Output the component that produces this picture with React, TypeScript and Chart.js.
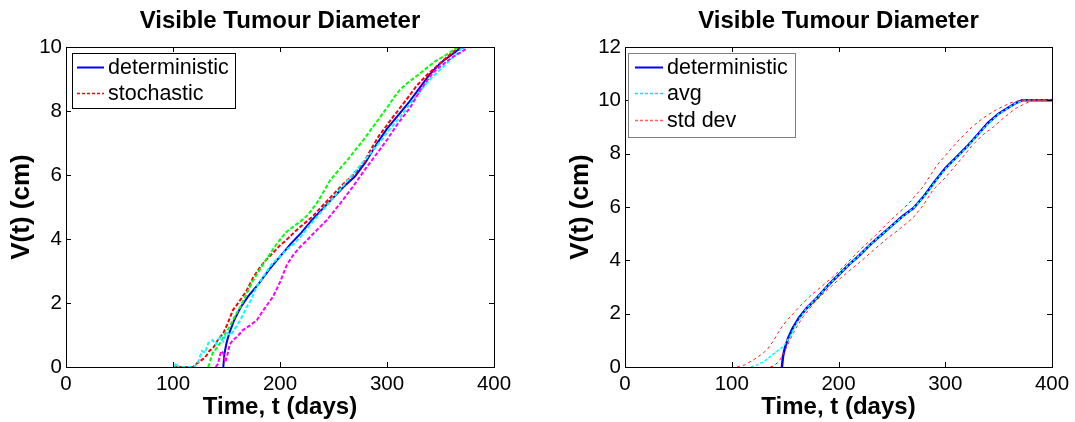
import React, { useEffect, useRef } from "react";
import { Chart, registerables } from "chart.js";
Chart.register(...registerables);

// ---------- data ----------
const xTicks = [0, 100, 200, 300, 400];
const leftYMax = 10;
const rightYMax = 12;

const detT = [147, 148, 150, 153, 157, 163, 170, 180, 190, 200, 210, 220, 230, 240, 250, 260, 270, 280, 290, 300, 310, 320, 330, 340, 350, 360, 366, 372];
const detV = [0, 0.4, 0.75, 1.1, 1.45, 1.85, 2.2, 2.6, 3.05, 3.45, 3.85, 4.2, 4.6, 4.95, 5.3, 5.65, 5.95, 6.4, 6.95, 7.45, 7.85, 8.25, 8.7, 9.15, 9.5, 9.75, 9.9, 10];

const redT = [100, 119, 122, 126, 130, 134, 138, 142, 147, 151, 156, 162, 169, 175, 181, 187, 193, 200, 206, 213, 219, 225, 230, 240, 250, 260, 270, 278, 285, 292, 303, 310, 318, 328, 338, 350, 360, 368];
const redV = [0, 0, 0.1, 0.2, 0.3, 0.5, 0.62, 0.85, 1.06, 1.35, 1.78, 2.05, 2.4, 2.8, 3.1, 3.35, 3.55, 3.8, 3.97, 4.2, 4.38, 4.55, 4.69, 5.05, 5.4, 5.75, 6.05, 6.37, 6.8, 7.2, 7.7, 8.0, 8.35, 8.8, 9.15, 9.5, 9.8, 10];

const greenT = [133, 137, 141, 144, 148, 153, 158, 163, 169, 174, 179, 185, 191, 198, 206, 213, 219, 226, 235, 247, 256, 265, 278, 289, 300, 306, 312, 320, 328, 337, 345, 355, 362, 366];
const greenV = [0, 0.43, 0.6, 0.75, 1.0, 1.26, 1.6, 1.88, 2.3, 2.65, 2.93, 3.25, 3.55, 3.9, 4.22, 4.4, 4.55, 4.75, 5.15, 5.84, 6.2, 6.55, 7.1, 7.6, 8.1, 8.4, 8.66, 8.9, 9.1, 9.34, 9.55, 9.75, 9.9, 10];

const cyanT = [101, 103, 105, 120, 124, 127, 130, 133, 137, 140, 144, 147, 150, 154, 158, 163, 169, 173, 178, 185, 193, 200, 206, 213, 219, 227, 234.5, 245, 255, 265, 275, 287, 295, 303, 312, 320, 327, 334, 342, 350, 356, 364, 371];
const cyanV = [0, 0.12, 0, 0, 0.2, 0.5, 0.45, 0.75, 0.84, 0.7, 0.94, 0.8, 1.06, 1.0, 1.2, 1.47, 1.88, 2.1, 2.5, 2.85, 3.25, 3.45, 3.66, 3.85, 4.07, 4.4, 4.69, 5.1, 5.5, 5.9, 6.3, 6.78, 7.1, 7.45, 7.8, 8.15, 8.45, 8.75, 9.05, 9.3, 9.5, 9.75, 10];

const magT = [140, 142, 145, 147, 149, 151, 153, 156, 160, 165.6, 172, 178.5, 185, 193.5, 200, 206.5, 212, 218.7, 225, 232, 244, 256, 268, 280, 293, 300, 310, 321.5, 332, 343, 352, 362, 370, 376];
const magV = [0, 0.1, 0.5, 0.43, 0.15, 0.4, 0.7, 0.84, 0.95, 1.16, 1.3, 1.47, 1.8, 2.2, 2.65, 3.2, 3.48, 3.75, 3.95, 4.2, 4.6, 5.1, 5.63, 6.2, 6.78, 7.1, 7.6, 8.1, 8.7, 9.2, 9.45, 9.7, 9.85, 10];

const detRT = [147, 148, 150, 153, 157, 163, 170, 180, 190, 200, 210, 220, 230, 240, 250, 260, 270, 280, 290, 300, 310, 320, 330, 340, 350, 360, 366, 372, 400];
const detRV = [0, 0.4, 0.75, 1.1, 1.45, 1.85, 2.2, 2.6, 3.05, 3.45, 3.85, 4.2, 4.6, 4.95, 5.3, 5.65, 5.95, 6.4, 6.95, 7.45, 7.85, 8.25, 8.7, 9.15, 9.5, 9.75, 9.9, 10, 10];

const avgT = [118, 123.6, 130, 136, 142, 148, 154.6, 160, 170, 180, 190, 200, 210, 220, 230, 240, 250, 260, 270, 280, 290, 300, 310, 320, 330, 340, 350, 360, 366, 373, 400];
const avgV = [0, 0.07, 0.2, 0.39, 0.58, 0.76, 1.14, 1.6, 2.2, 2.6, 3.05, 3.45, 3.85, 4.2, 4.6, 4.95, 5.3, 5.63, 5.95, 6.38, 6.92, 7.42, 7.83, 8.23, 8.68, 9.12, 9.48, 9.74, 9.9, 10, 10];

const upT = [105, 112, 120, 127, 133, 139, 145, 151, 157.6, 165, 173, 185, 195, 208, 220, 235, 250, 265, 279, 292, 304.5, 315, 325, 335.6, 348, 360.7, 370, 400];
const upV = [0, 0.08, 0.26, 0.45, 0.64, 0.98, 1.39, 1.72, 2.0, 2.33, 2.64, 3.05, 3.39, 3.9, 4.39, 4.95, 5.55, 6.1, 6.75, 7.55, 8.14, 8.6, 9.0, 9.34, 9.65, 9.9, 10, 10];

const lowT = [136, 140, 145, 150, 154.5, 160, 167, 176, 186, 198, 211, 222, 233, 245, 258, 270, 280, 288.5, 300, 314, 325, 335, 345, 355, 366, 376, 382, 400];
const lowV = [0, 0.05, 0.26, 0.62, 1.01, 1.45, 1.89, 2.35, 2.76, 3.2, 3.64, 4.0, 4.39, 4.8, 5.2, 5.6, 6.1, 6.64, 7.1, 7.76, 8.3, 8.7, 9.0, 9.35, 9.7, 9.9, 10, 10];

const titleText = "Visible Tumour Diameter";
const xTitle = "Time, t (days)";
const yTitle = "V(t) (cm)";
const leftLegend = ["deterministic", "stochastic"];
const rightLegend = ["deterministic", "avg", "std dev"];

// ---------- helpers ----------
const pts = (t: number[], v: number[]) => t.map((x, i) => ({ x, y: v[i] }));
const FONT = '"Liberation Sans", Arial, sans-serif';

type LegendItem = { label: string; color: string; dash: number[]; width: number };

function makeFramePlugin(legend: { box: [number, number, number, number]; border: string; rows: number[]; lineX: [number, number]; textX: number; items: LegendItem[] }) {
  return {
    id: "frame",
    afterDraw(chart: any) {
      const ctx = chart.ctx as CanvasRenderingContext2D;
      const { left, top, right, bottom } = chart.chartArea;
      const xs = chart.scales.x;
      const ys = chart.scales.y;
      ctx.save();
      ctx.strokeStyle = "#000";
      ctx.lineWidth = 1;
      ctx.setLineDash([]);
      ctx.strokeRect(Math.round(left) + 0.5, Math.round(top) + 0.5, Math.round(right - left), Math.round(bottom - top));
      const tl = 5;
      xs.ticks.forEach((t: any) => {
        const p = Math.round(xs.getPixelForValue(t.value)) + 0.5;
        ctx.beginPath();
        ctx.moveTo(p, bottom); ctx.lineTo(p, bottom - tl);
        ctx.moveTo(p, top); ctx.lineTo(p, top + tl);
        ctx.stroke();
      });
      ys.ticks.forEach((t: any) => {
        const p = Math.round(ys.getPixelForValue(t.value)) + 0.5;
        ctx.beginPath();
        ctx.moveTo(left, p); ctx.lineTo(left + tl, p);
        ctx.moveTo(right, p); ctx.lineTo(right - tl, p);
        ctx.stroke();
      });
      // titles
      ctx.fillStyle = "#000";
      ctx.font = `bold 24px ${FONT}`;
      ctx.textAlign = "center";
      ctx.textBaseline = "middle";
      const cx = (left + right) / 2;
      ctx.fillText(titleText, cx, 21);
      ctx.fillText(xTitle, cx, 407);
      ctx.save();
      ctx.font = `bold 26px ${FONT}`;
      ctx.translate(left - 44, (top + bottom) / 2);
      ctx.rotate(-Math.PI / 2);
      ctx.fillText(yTitle, 0, 0);
      ctx.restore();
      // legend
      const [bx, by, bw, bh] = legend.box;
      ctx.fillStyle = "#fff";
      ctx.fillRect(bx, by, bw, bh);
      ctx.strokeStyle = legend.border;
      ctx.lineWidth = 1;
      ctx.strokeRect(bx + 0.5, by + 0.5, bw, bh);
      ctx.font = `21.5px ${FONT}`;
      ctx.textAlign = "left";
      ctx.textBaseline = "middle";
      legend.items.forEach((it, i) => {
        const y = legend.rows[i];
        ctx.strokeStyle = it.color;
        ctx.lineWidth = it.width;
        ctx.setLineDash(it.dash);
        ctx.beginPath();
        ctx.moveTo(legend.lineX[0], y + 0.5);
        ctx.lineTo(legend.lineX[1], y + 0.5);
        ctx.stroke();
        ctx.setLineDash([]);
        ctx.fillStyle = "#000";
        ctx.fillText(it.label, legend.textX, y + 1);
      });
      ctx.restore();
    },
  };
}

function baseOptions(yMax: number, yWidth: number, padRight: number) {
  const tickFont = { family: FONT, size: 20.5 };
  return {
    animation: false,
    responsive: false,
    devicePixelRatio: 1,
    layout: { padding: { top: 47, right: padRight, left: 0, bottom: 0 } },
    plugins: { legend: { display: false }, title: { display: false }, tooltip: { enabled: false } },
    elements: { point: { radius: 0 }, line: { tension: 0 } },
    scales: {
      x: {
        type: "linear",
        min: 0,
        max: 400,
        afterBuildTicks: (s: any) => { s.ticks = xTicks.map((v) => ({ value: v })); },
        ticks: { font: tickFont, color: "#000", padding: 5, maxRotation: 0, callback: (v: any) => String(v) },
        grid: { display: false, drawTicks: false },
        border: { display: false },
        afterFit: (s: any) => { s.height = 55; },
      },
      y: {
        type: "linear",
        min: 0,
        max: yMax,
        ticks: { stepSize: 2, font: tickFont, color: "#000", padding: 4, callback: (v: any) => String(v) },
        grid: { display: false, drawTicks: false },
        border: { display: false },
        afterFit: (s: any) => { s.width = yWidth; },
      },
    },
  };
}

function Panel({ width, left, config }: { width: number; left: number; config: any }) {
  const ref = useRef<HTMLCanvasElement>(null);
  useEffect(() => {
    const chart = new Chart(ref.current as HTMLCanvasElement, config);
    return () => chart.destroy();
  }, []);
  return (
    <canvas
      ref={ref}
      width={width}
      height={422}
      style={{ position: "absolute", left, top: 0, width, height: 422 }}
    />
  );
}

const ds = (label: string, t: number[], v: number[], color: string, width: number, dash: number[]) => ({
  label,
  data: pts(t, v),
  borderColor: color,
  borderWidth: width,
  borderDash: dash,
  pointRadius: 0,
  fill: false,
});

export default function App() {
  const leftConfig = {
    type: "line",
    data: {
      datasets: [
        ds("magenta", magT, magV, "#ff00ff", 2, [4, 2]),
        ds("cyan", cyanT, cyanV, "#00ffff", 2, [4, 2]),
        ds("green", greenT, greenV, "#00ff00", 2, [4, 2]),
        ds("stochastic", redT, redV, "#ff0000", 2, [4, 2]),
        ds("deterministic", detT, detV, "#0000ff", 2, []),
      ],
    },
    options: baseOptions(leftYMax, 66, 540 - 494),
    plugins: [
      makeFramePlugin({
        box: [72, 53, 163, 55],
        border: "#000",
        rows: [67, 93],
        lineX: [77, 104],
        textX: 108,
        items: [
          { label: leftLegend[0], color: "#0000ff", dash: [], width: 2 },
          { label: leftLegend[1], color: "#ff0000", dash: [3, 2], width: 1.5 },
        ],
      }),
    ],
  };
  const rightConfig = {
    type: "line",
    data: {
      datasets: [
        ds("std dev", upT, upV, "#ff2020", 1, [3, 3]),
        ds("std dev lower", lowT, lowV, "#ff2020", 1, [3, 3]),
        ds("avg", avgT, avgV, "#00ffff", 1.5, [3, 2]),
        ds("deterministic", detRT, detRV, "#0000ff", 2.5, []),
      ],
    },
    options: baseOptions(rightYMax, 85, 535 - 512),
    plugins: [
      makeFramePlugin({
        box: [88, 53, 167, 84],
        border: "#808080",
        rows: [67, 93, 120],
        lineX: [95, 123],
        textX: 127,
        items: [
          { label: rightLegend[0], color: "#0000ff", dash: [], width: 2 },
          { label: rightLegend[1], color: "#00e8ff", dash: [3, 2], width: 1.5 },
          { label: rightLegend[2], color: "#ff6060", dash: [3, 2], width: 1.5 },
        ],
      }),
    ],
  };
  return (
    <div style={{ position: "absolute", left: 0, top: 0, width: 1075, height: 422, background: "#fff" }}>
      <Panel width={540} left={0} config={leftConfig} />
      <Panel width={535} left={540} config={rightConfig} />
    </div>
  );
}
